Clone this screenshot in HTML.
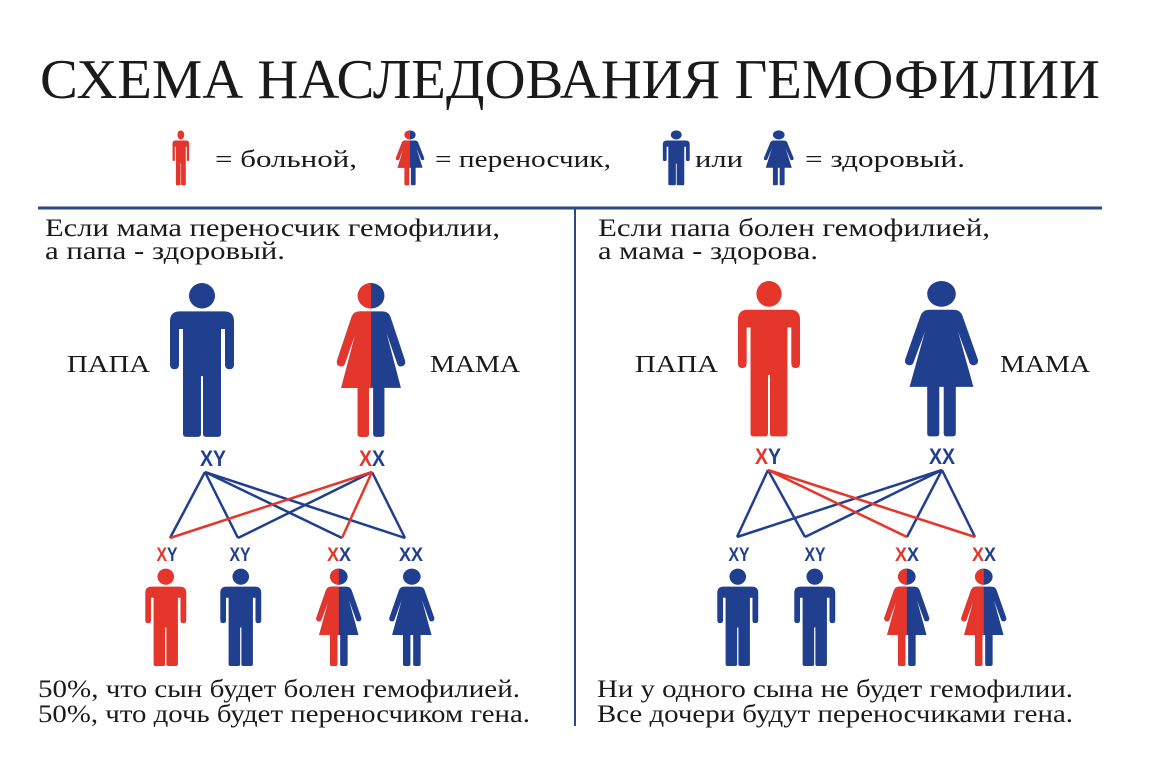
<!DOCTYPE html>
<html><head><meta charset="utf-8"><style>
html,body{margin:0;padding:0;background:#fff;}
svg{display:block;}
.s{font-family:"Liberation Serif","DejaVu Serif",serif;fill:#1a1a1a;}
.g{font-family:"Liberation Sans","DejaVu Sans",sans-serif;font-weight:bold;}
</style></head><body>
<svg width="1157" height="759" viewBox="0 0 1157 759" xmlns="http://www.w3.org/2000/svg">
<defs>
  <g id="man">
    <circle cx="34" cy="14" r="13"/>
    <path d="M12,30 H56 Q66,30 66,40 V84 Q66,89 61.5,89 Q57,89 57,84 V48 H53 V155 Q53,158 50,158 H38 Q35,158 35,155 V96 H33 V155 Q33,158 30,158 H18 Q15,158 15,155 V48 H11 V84 Q11,89 6.5,89 Q2,89 2,84 V40 Q2,30 12,30 Z"/>
  </g>
  <g id="woman">
    <circle cx="35" cy="14" r="13"/>
    <path d="M24,30 H46 Q52,30 54,36 L68,80 Q69,85 65,86 Q61,87 60,82 L50,52 L64,108 H48 V155 Q48,158 45,158 H40 Q37,158 37,155 V108 H33 V155 Q33,158 30,158 H25 Q22,158 22,155 V108 H6 L20,52 L10,82 Q9,87 5,86 Q1,85 2,80 L16,36 Q18,30 24,30 Z"/>
  </g>
  <clipPath id="lh"><rect x="-10" y="-10" width="45" height="180"/></clipPath>
  <g id="carrier">
    <use href="#woman" fill="#203f8e"/>
    <use href="#woman" fill="#e5362c" clip-path="url(#lh)"/>
  </g>
</defs>

<text class="s" x="40" y="98" font-size="56" textLength="1060" lengthAdjust="spacingAndGlyphs">СХЕМА НАСЛЕДОВАНИЯ ГЕМОФИЛИИ</text>

<g transform="translate(172,130) scale(0.26,0.35)"><use href="#man" fill="#e5362c"/></g>
<text class="s" x="215" y="167" font-size="24" textLength="142" lengthAdjust="spacingAndGlyphs">= больной,</text>
<g transform="translate(395,130) scale(0.43,0.35)"><use href="#carrier"/></g>
<text class="s" x="435" y="167" font-size="24" textLength="176" lengthAdjust="spacingAndGlyphs">= переносчик,</text>
<g transform="translate(662,130) scale(0.42,0.35)"><use href="#man" fill="#203f8e"/></g>
<text class="s" x="695" y="167" font-size="24" textLength="48" lengthAdjust="spacingAndGlyphs">или</text>
<g transform="translate(763,130) scale(0.45,0.35)"><use href="#woman" fill="#203f8e"/></g>
<text class="s" x="805" y="167" font-size="24" textLength="160" lengthAdjust="spacingAndGlyphs">= здоровый.</text>

<line x1="38" y1="208" x2="1102" y2="208" stroke="#2a4a86" stroke-width="3"/>
<line x1="575" y1="208" x2="575" y2="726" stroke="#2a4a86" stroke-width="2"/>

<text class="s" x="45" y="236" font-size="25" textLength="455" lengthAdjust="spacingAndGlyphs">Если мама переносчик гемофилии,</text>
<text class="s" x="45" y="259" font-size="25" textLength="240" lengthAdjust="spacingAndGlyphs">а папа - здоровый.</text>
<text class="s" x="598" y="236" font-size="25" textLength="392" lengthAdjust="spacingAndGlyphs">Если папа болен гемофилией,</text>
<text class="s" x="598" y="259" font-size="25" textLength="220" lengthAdjust="spacingAndGlyphs">а мама - здорова.</text>

<text class="s" x="67" y="372" font-size="24" textLength="83" lengthAdjust="spacingAndGlyphs">ПАПА</text>
<text class="s" x="430" y="372" font-size="24" textLength="90" lengthAdjust="spacingAndGlyphs">МАМА</text>
<text class="s" x="635" y="372" font-size="24" textLength="83" lengthAdjust="spacingAndGlyphs">ПАПА</text>
<text class="s" x="1000" y="372" font-size="24" textLength="90" lengthAdjust="spacingAndGlyphs">МАМА</text>

<g transform="translate(168,282) scale(1,0.98)"><use href="#man" fill="#203f8e"/></g>
<g transform="translate(335,282) scale(1.03,0.98)"><use href="#carrier"/></g>
<text class="g" x="213" y="466" font-size="22" text-anchor="middle" fill="#203f8e" textLength="26" lengthAdjust="spacingAndGlyphs">XY</text>
<text class="g" x="372" y="466" font-size="22" text-anchor="middle" textLength="26" lengthAdjust="spacingAndGlyphs"><tspan fill="#e5362c">X</tspan><tspan fill="#203f8e">X</tspan></text>

<g stroke-width="2.5" fill="none">
  <line x1="205" y1="472" x2="170" y2="538" stroke="#203f8e"/>
  <line x1="205" y1="472" x2="238" y2="538" stroke="#203f8e"/>
  <line x1="205" y1="472" x2="342" y2="538" stroke="#203f8e"/>
  <line x1="205" y1="472" x2="405" y2="538" stroke="#203f8e"/>
  <line x1="372" y1="472" x2="238" y2="538" stroke="#203f8e"/>
  <line x1="372" y1="472" x2="405" y2="538" stroke="#203f8e"/>
  <line x1="372" y1="472" x2="170" y2="538" stroke="#e5362c"/>
  <line x1="372" y1="472" x2="342" y2="538" stroke="#e5362c"/>
</g>
<text class="g" x="167" y="561" font-size="19" text-anchor="middle" textLength="21" lengthAdjust="spacingAndGlyphs"><tspan fill="#e5362c">X</tspan><tspan fill="#203f8e">Y</tspan></text>
<text class="g" x="240" y="561" font-size="19" text-anchor="middle" fill="#203f8e" textLength="21" lengthAdjust="spacingAndGlyphs">XY</text>
<text class="g" x="339" y="561" font-size="19" text-anchor="middle" textLength="24" lengthAdjust="spacingAndGlyphs"><tspan fill="#e5362c">X</tspan><tspan fill="#203f8e">X</tspan></text>
<text class="g" x="411" y="561" font-size="19" text-anchor="middle" fill="#203f8e" textLength="24" lengthAdjust="spacingAndGlyphs">XX</text>
<g transform="translate(144,568) scale(0.64,0.62)"><use href="#man" fill="#e5362c"/></g>
<g transform="translate(219,568) scale(0.64,0.62)"><use href="#man" fill="#203f8e"/></g>
<g transform="translate(315,568) scale(0.68,0.62)"><use href="#carrier"/></g>
<g transform="translate(388,568) scale(0.68,0.62)"><use href="#woman" fill="#203f8e"/></g>

<g transform="translate(736,280) scale(0.97,0.99)"><use href="#man" fill="#e5362c"/></g>
<g transform="translate(903,280) scale(1.1,0.99)"><use href="#woman" fill="#203f8e"/></g>
<text class="g" x="768" y="464" font-size="22" text-anchor="middle" textLength="26" lengthAdjust="spacingAndGlyphs"><tspan fill="#e5362c">X</tspan><tspan fill="#203f8e">Y</tspan></text>
<text class="g" x="942" y="464" font-size="22" text-anchor="middle" fill="#203f8e" textLength="26" lengthAdjust="spacingAndGlyphs">XX</text>
<g stroke-width="2.5" fill="none">
  <line x1="768" y1="470" x2="737" y2="537" stroke="#203f8e"/>
  <line x1="768" y1="470" x2="805" y2="537" stroke="#203f8e"/>
  <line x1="942" y1="470" x2="737" y2="537" stroke="#203f8e"/>
  <line x1="942" y1="470" x2="805" y2="537" stroke="#203f8e"/>
  <line x1="942" y1="470" x2="907" y2="537" stroke="#203f8e"/>
  <line x1="942" y1="470" x2="975" y2="537" stroke="#203f8e"/>
  <line x1="768" y1="470" x2="907" y2="537" stroke="#e5362c"/>
  <line x1="768" y1="470" x2="975" y2="537" stroke="#e5362c"/>
</g>
<text class="g" x="739" y="561" font-size="19" text-anchor="middle" fill="#203f8e" textLength="21" lengthAdjust="spacingAndGlyphs">XY</text>
<text class="g" x="815" y="561" font-size="19" text-anchor="middle" fill="#203f8e" textLength="21" lengthAdjust="spacingAndGlyphs">XY</text>
<text class="g" x="907" y="561" font-size="19" text-anchor="middle" textLength="24" lengthAdjust="spacingAndGlyphs"><tspan fill="#e5362c">X</tspan><tspan fill="#203f8e">X</tspan></text>
<text class="g" x="984" y="561" font-size="19" text-anchor="middle" textLength="24" lengthAdjust="spacingAndGlyphs"><tspan fill="#e5362c">X</tspan><tspan fill="#203f8e">X</tspan></text>
<g transform="translate(716,568) scale(0.64,0.62)"><use href="#man" fill="#203f8e"/></g>
<g transform="translate(793,568) scale(0.64,0.62)"><use href="#man" fill="#203f8e"/></g>
<g transform="translate(883,568) scale(0.68,0.62)"><use href="#carrier"/></g>
<g transform="translate(960,568) scale(0.68,0.62)"><use href="#carrier"/></g>

<text class="s" x="38" y="697" font-size="25" textLength="482" lengthAdjust="spacingAndGlyphs">50%, что сын будет болен гемофилией.</text>
<text class="s" x="38" y="722" font-size="25" textLength="492" lengthAdjust="spacingAndGlyphs">50%, что дочь будет переносчиком гена.</text>
<text class="s" x="597" y="697" font-size="25" textLength="476" lengthAdjust="spacingAndGlyphs">Ни у одного сына не будет гемофилии.</text>
<text class="s" x="597" y="722" font-size="25" textLength="476" lengthAdjust="spacingAndGlyphs">Все дочери будут переносчиками гена.</text>
</svg>
</body></html>
